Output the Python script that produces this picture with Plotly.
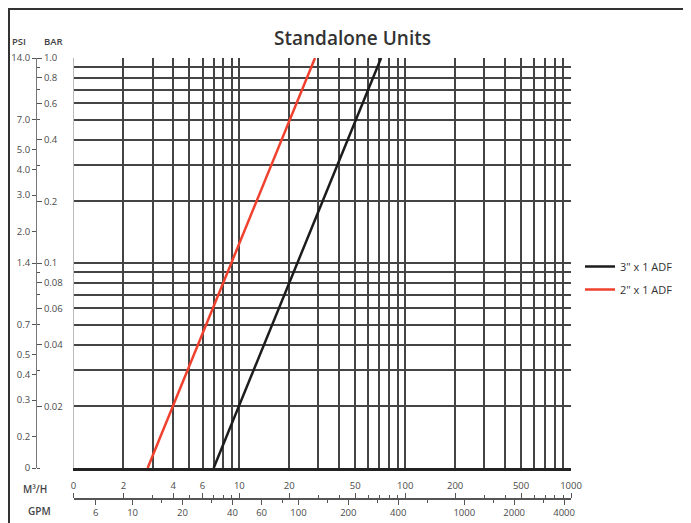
import math
import plotly.graph_objects as go

# ---- data ----
flow_2in = [2.8, 28.6]        # m3/h
bar_2in = [0.01, 1.0]
flow_3in = [7.0, 71.6]        # m3/h
bar_3in = [0.01, 1.0]

m3h_tick_vals = [1, 2, 4, 6, 10, 20, 50, 100, 200, 500, 1000]
m3h_tick_text = ["0", "2", "4", "6", "10", "20", "50", "100", "200", "500", "1000"]
gpm_tick_vals = [6, 10, 20, 40, 60, 100, 200, 400, 1000, 2000, 4000]
gpm_minor_vals = [15, 30, 80, 150, 300, 600, 1500, 3000]
bar_tick_vals = [1.0, 0.8, 0.6, 0.4, 0.2, 0.1, 0.08, 0.06, 0.04, 0.02]
bar_tick_text = ["1.0", "0.8", "0.6", "0.4", "0.2", "0.1", "0.08", "0.06", "0.04", "0.02"]
psi_tick_vals = [14.0, 7.0, 5.0, 4.0, 3.0, 2.0, 1.4, 0.7, 0.5, 0.4, 0.3, 0.2]
psi_tick_text = ["14.0", "7.0", "5.0", "4.0", "3.0", "2.0", "1.4", "0.7", "0.5", "0.4", "0.3", "0.2"]
PSI_PER_BAR = 14.0
GPM_PER_M3H = 4.403


def decade_mults(lo, hi):
    return [m * 10 ** e for e in range(lo, hi) for m in range(1, 10)]


x_grid = [v for v in decade_mults(0, 3) if v > 1] + [1000]
y_grid = decade_mults(-2, 0) + [1.0]
x_minor = [v for v in decade_mults(0, 3) if v not in m3h_tick_vals]

# page has an 8px body margin; work in page pixel coordinates
OFF = 8
W, H = 691 - OFF, 523 - OFF


def px(x):
    return (x - OFF) / W


def py(y):
    return 1 - (y - OFF) / H


plot_l, plot_r, plot_t, plot_b = 73.5, 571, 58, 468
axis_y_px = 499
tick_font = dict(family="Open Sans", size=9.5, color="#4a4a4a")

fig = go.Figure()
fig.add_trace(go.Scatter(x=flow_3in, y=bar_3in, mode="lines", name='3" x 1 ADF',
                         legendgroup="a", line=dict(color="#1c1c1c", width=2.5)))
fig.add_trace(go.Scatter(x=flow_2in, y=bar_2in, mode="lines", name='2" x 1 ADF',
                         legendgroup="b", line=dict(color="#f0402e", width=2.5)))
# transparent copies so the secondary scales (M3/H, GPM, PSI, BAR) are drawn
fig.add_trace(go.Scatter(x=flow_2in, y=bar_2in, xaxis="x2", yaxis="y2", mode="lines",
                         line=dict(color="rgba(0,0,0,0)", width=0), showlegend=False,
                         hoverinfo="skip"))
fig.add_trace(go.Scatter(x=[f * GPM_PER_M3H for f in flow_2in], y=bar_2in, xaxis="x3",
                         yaxis="y3", mode="lines",
                         line=dict(color="rgba(0,0,0,0)", width=0), showlegend=False,
                         hoverinfo="skip"))

axis_common = dict(type="log", automargin=False)


def label(text, x, y, size, weight=600, color="#444"):
    return dict(text=text, x=px(x), y=py(y), xref="paper", yref="paper",
                xanchor="center", yanchor="middle", showarrow=False,
                font=dict(family="Open Sans", size=size, color=color, weight=weight))


fig.update_layout(
    width=W, height=H,
    margin=dict(l=0, r=0, t=0, b=0, pad=0),
    paper_bgcolor="white", plot_bgcolor="white",
    showlegend=True,
    legend=dict(x=px(580), y=py(252), xanchor="left", yanchor="top",
                font=dict(family="Open Sans", size=11, color="#333"),
                bgcolor="rgba(0,0,0,0)", itemwidth=30, tracegroupgap=4,
                traceorder="grouped"),
    xaxis=dict(**axis_common, domain=[px(plot_l), px(plot_r)], range=[0, 3],
               tickmode="array", tickvals=x_grid, showticklabels=False, ticks="",
               showgrid=True, gridcolor="#444", gridwidth=2,
               showline=True, linecolor="#222", linewidth=3, zeroline=False),
    yaxis=dict(**axis_common, domain=[py(plot_b), py(plot_t)], range=[-2, 0],
               tickmode="array", tickvals=y_grid, showticklabels=False, ticks="",
               showgrid=True, gridcolor="#444", gridwidth=2,
               showline=True, linecolor="#bbb", linewidth=1, zeroline=False),
    # M3/H axis (labels above line)
    xaxis2=dict(**axis_common, overlaying="x", anchor="free", position=py(axis_y_px),
                side="top", range=[0, 3], tickmode="array",
                tickvals=m3h_tick_vals, ticktext=m3h_tick_text,
                ticks="outside", ticklen=5, tickwidth=1, tickcolor="#555",
                minor=dict(tickmode="array", tickvals=x_minor, ticks="outside",
                           ticklen=3, tickwidth=1, tickcolor="#555"),
                showgrid=False, showline=True, linecolor="#555", linewidth=1.5,
                tickfont=tick_font, zeroline=False),
    # GPM axis (labels below line)
    xaxis3=dict(**axis_common, overlaying="x", anchor="free", position=py(axis_y_px),
                side="bottom",
                range=[math.log10(GPM_PER_M3H), 3 + math.log10(GPM_PER_M3H)],
                tickmode="array", tickvals=gpm_tick_vals,
                ticktext=[str(v) for v in gpm_tick_vals],
                ticks="outside", ticklen=5, tickwidth=1, tickcolor="#555",
                minor=dict(tickmode="array", tickvals=gpm_minor_vals, ticks="outside",
                           ticklen=3, tickwidth=1, tickcolor="#555"),
                showgrid=False, showline=False,
                tickfont=tick_font, zeroline=False),
    # PSI axis (labels left)
    yaxis2=dict(**axis_common, overlaying="y", anchor="free", position=px(36),
                side="left", range=[-2, 0], tickmode="array",
                tickvals=[p / PSI_PER_BAR for p in psi_tick_vals] + [0.01],
                ticktext=psi_tick_text + ["0"],
                ticks="outside", ticklen=4, tickwidth=1, tickcolor="#555",
                showgrid=False, showline=True, linecolor="#777", linewidth=1,
                tickfont=tick_font, zeroline=False),
    # BAR axis (labels right)
    yaxis3=dict(**axis_common, overlaying="y", anchor="free", position=px(36),
                side="right", range=[-2, 0], tickmode="array",
                tickvals=bar_tick_vals, ticktext=bar_tick_text,
                ticks="outside", ticklen=5, tickwidth=1, tickcolor="#555",
                minor=dict(tickmode="array",
                           tickvals=[v for v in y_grid if v not in bar_tick_vals],
                           ticks="outside", ticklen=3, tickwidth=1, tickcolor="#555"),
                showgrid=False, showline=False,
                tickfont=tick_font, zeroline=False),
    annotations=[
        label("Standalone Units", 352, 38, 19, color="#333"),
        label("PSI", 19, 42, 9.5),
        label("BAR", 53, 42, 9.5),
        label("M³/H", 35, 489, 10),
        label("GPM", 39, 511, 10),
    ],
    shapes=[
        dict(type="line", xref="paper", yref="paper", x0=0, x1=1, y0=py(9), y1=py(9),
             line=dict(color="#333", width=2)),
        dict(type="line", xref="paper", yref="paper", x0=px(9), x1=px(9), y0=py(9), y1=0,
             line=dict(color="#333", width=2)),
    ],
)

fig.write_html("out.html")
